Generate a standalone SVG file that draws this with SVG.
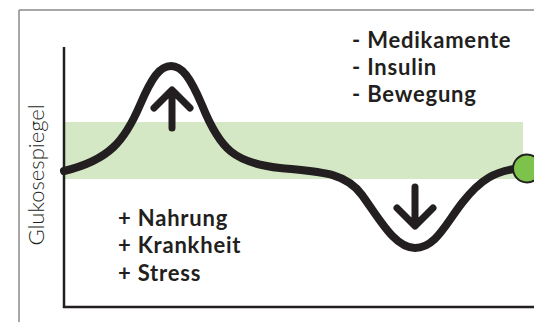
<svg xmlns="http://www.w3.org/2000/svg" width="534" height="322" viewBox="0 0 534 322">
<style>
.frame{stroke:#8a8a8a;stroke-width:1.5;fill:none}
.axis{stroke:#231f20;stroke-width:2.5;fill:none}
.curve{stroke:#231f20;stroke-width:8;fill:none;stroke-linecap:round;stroke-linejoin:round}
.arrow{stroke:#231f20;stroke-width:7;fill:none;stroke-linecap:round;stroke-linejoin:round}
.lbl{font-family:"Lato","Liberation Sans",sans-serif;font-weight:bold;font-size:22px;letter-spacing:0.8px;fill:#231f20}
.ylbl{font-family:"Lato","Liberation Sans",sans-serif;font-weight:300;font-size:22px;fill:#231f20}
</style>
<rect width="534" height="322" fill="#ffffff"/>
<g id="frame">
<line class="frame" x1="19" y1="10" x2="534" y2="10"/>
<line class="frame" x1="19" y1="10" x2="19" y2="322"/>
</g>
<g id="band"><rect x="64" y="122" width="459" height="57" fill="#d5e8c5"/></g>
<g id="axes">
<line class="axis" x1="64" y1="47" x2="64" y2="308"/>
<line class="axis" x1="63" y1="307" x2="534" y2="307"/>
</g>
<g id="ylabel"><text class="ylbl" transform="translate(44 175) rotate(-90)" text-anchor="middle">Glukosespiegel</text></g>
<g id="connectors">
<path class="curve" d="M 64 171 C 110 160, 125 140, 140 105 C 152 77, 160 66, 171 66 C 182 66, 190 77, 202 105 C 220 150, 235 163, 280 168 C 320 172, 345 172, 362 195 C 380 220, 395 248, 415 248 C 435 248, 445 225, 462 203 C 480 180, 495 170, 523 168"/>
</g>
<g id="up-arrow"><path class="arrow" d="M 172 128 L 172 91 M 154 108 L 172 90 L 190 108"/></g>
<g id="down-arrow"><path class="arrow" d="M 415 187 L 415 225 M 397 208 L 415 226 L 433 208"/></g>
<g id="end-dot"><circle cx="527" cy="168.5" r="14" fill="#7dc24b" stroke="#231f20" stroke-width="2"/></g>
<g id="minus-labels">
<text class="lbl" x="352" y="48">- Medikamente</text>
<text class="lbl" x="352" y="75">- Insulin</text>
<text class="lbl" x="352" y="102">- Bewegung</text>
</g>
<g id="plus-labels">
<text class="lbl" x="118" y="226">+ Nahrung</text>
<text class="lbl" x="118" y="253">+ Krankheit</text>
<text class="lbl" x="118" y="281">+ Stress</text>
</g>
</svg>
